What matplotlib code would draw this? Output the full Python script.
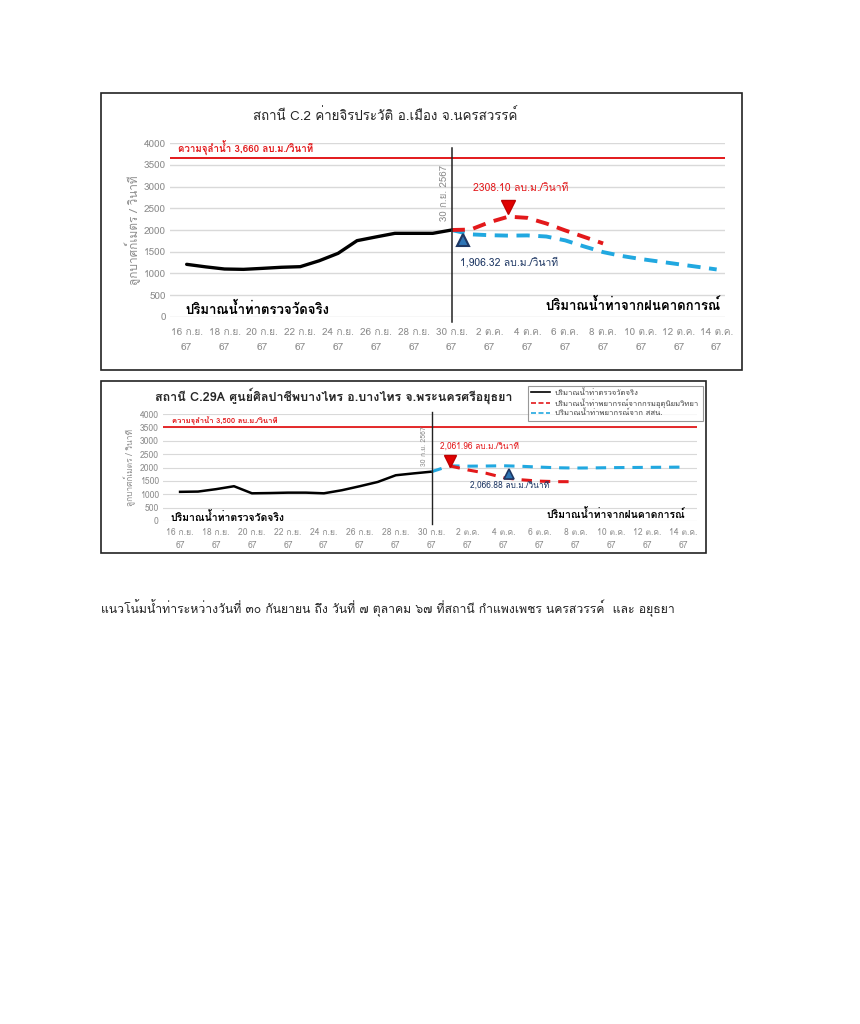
import matplotlib
matplotlib.use("Agg")
import matplotlib.pyplot as plt
from matplotlib import font_manager
from matplotlib.lines import Line2D
from matplotlib.patches import Rectangle

# หาฟอนต์ที่มีอักษรไทย
thai_font = None
try:
    from fontTools.ttLib import TTFont
    for f in font_manager.fontManager.ttflist:
        try:
            cmap = TTFont(f.fname, fontNumber=0, lazy=True).getBestCmap()
        except Exception:
            continue
        if cmap and 0x0E2A in cmap and 0x0E49 in cmap and 0x0E53 in cmap:
            thai_font = f.name
            break
except Exception:
    pass
fams = ([thai_font] if thai_font else []) + ["DejaVu Sans"]
plt.rcParams["font.family"] = fams

# ---- data ----
tick_pos = list(range(0, 29, 2))
tick_labels = ["16 ก.ย.\n67", "18 ก.ย.\n67", "20 ก.ย.\n67", "22 ก.ย.\n67", "24 ก.ย.\n67",
               "26 ก.ย.\n67", "28 ก.ย.\n67", "30 ก.ย.\n67", "2 ต.ค.\n67", "4 ต.ค.\n67",
               "6 ต.ค.\n67", "8 ต.ค.\n67", "10 ต.ค.\n67", "12 ต.ค.\n67", "14 ต.ค.\n67"]

# C.2 นครสวรรค์
c2_obs_x = list(range(0, 15))
c2_obs = [1208, 1150, 1100, 1092, 1115, 1140, 1154, 1290, 1462, 1754, 1840, 1923, 1923, 1923, 2000]
c2_tmd_x = list(range(14, 23))
c2_tmd = [2000, 2010, 2180, 2308, 2280, 2150, 1990, 1840, 1690]
c2_nhc_x = list(range(14, 29))
c2_nhc = [2000, 1900, 1880, 1870, 1875, 1850, 1760, 1620, 1490, 1400, 1330, 1270, 1210, 1150, 1090]
c2_cap = 3660

# C.29A บางไทร
c29_obs_x = list(range(0, 15))
c29_obs = [1090, 1100, 1190, 1300, 1035, 1045, 1060, 1060, 1035, 1150, 1300, 1460, 1710, 1780, 1845]
c29_tmd_x = list(range(15, 23))
c29_tmd = [2062, 1910, 1790, 1620, 1540, 1490, 1470, 1470]
c29_nhc_x = list(range(14, 29))
c29_nhc = [1845, 2062, 2050, 2055, 2065, 2045, 2015, 1990, 1980, 1985, 1995, 2000, 2005, 2010, 2015]
c29_cap = 3500

W, H = 860, 1024
fig = plt.figure(figsize=(8.6, 10.24), dpi=100)
fig.patch.set_facecolor("white")

def fx(x):
    return x / W

def fy(y):
    return 1 - y / H

RED = "#E3191B"
CYAN = "#21A8E0"
NAVY = "#1F3864"
GRAY = "#8C8C8C"

def setup(ax, fs, lw_grid, xpad):
    ax.set_ylim(0, 4000)
    ax.set_yticks(range(0, 4001, 500))
    ax.set_xticks(tick_pos)
    ax.set_xticklabels(tick_labels, linespacing=1.9)
    ax.tick_params(length=0, labelsize=fs, colors=GRAY)
    ax.tick_params(axis="x", pad=xpad)
    ax.tick_params(axis="y", pad=3)
    ax.grid(axis="y", color="#D9D9D9", lw=lw_grid)
    ax.set_axisbelow(True)
    for s in ax.spines.values():
        s.set_visible(False)

# ---------- chart 1 ----------
fig.add_artist(Rectangle((fx(101), fy(370)), fx(641), 277 / H, transform=fig.transFigure,
                         fill=False, ec="#222222", lw=1.2))
ax1 = fig.add_axes([fx(170), fy(316.7), fx(555), 173.4 / H])
setup(ax1, 7.2, 1.0, 8)
ax1.set_xlim(-0.88, 28.44)
ax1.axhline(c2_cap, color=RED, lw=1.4)
ax1.plot(c2_obs_x, c2_obs, color="black", lw=2.4, solid_capstyle="round")
ax1.plot(c2_nhc_x, c2_nhc, color=CYAN, lw=2.8, dashes=(3.4, 2.2))
ax1.plot(c2_tmd_x, c2_tmd, color=RED, lw=2.8, dashes=(3.4, 2.2))
ax1.plot([14, 14], [-120, 3900], color="#222222", lw=1.1, clip_on=False)
ax1.plot(17, 2520, marker="v", ms=10, color="#E00000", mec="#C00000")
ax1.plot(14.6, 1760, marker="^", ms=9, color="#2E75B6", mec=NAVY, mew=1.5)
ax1.text(-0.46, 3890, "ความจุลำน้ำ 3,660 ลบ.ม./วินาที", color=RED, fontsize=7, fontweight="bold", va="center")
ax1.text(13.6, 2850, "30 ก.ย. 2567", color=GRAY, fontsize=7, rotation=90, ha="center", va="center")
ax1.text(17.66, 2968, "2308.10 ลบ.ม./วินาที", color=RED, fontsize=7.5, ha="center", va="center")
ax1.text(14.44, 1262, "1,906.32 ลบ.ม./วินาที", color=NAVY, fontsize=7.5, ha="left", va="center")
ax1.text(-0.04, 175, "ปริมาณน้ำท่าตรวจวัดจริง", fontsize=9.5, fontweight="bold", va="center")
ax1.text(28.2, 270, "ปริมาณน้ำท่าจากฝนคาดการณ์", fontsize=9.5, fontweight="bold", ha="right", va="center")
ax1.set_ylabel("ลูกบาศก์เมตร / วินาที", color=GRAY, fontsize=8.5, labelpad=2)
fig.text(fx(385), fy(116), "สถานี C.2 ค่ายจิรประวัติ อ.เมือง จ.นครสวรรค์", fontsize=9.6,
         ha="center", va="center", color="#262626")

# ---------- chart 2 ----------
fig.add_artist(Rectangle((fx(101), fy(553)), fx(605), 172 / H, transform=fig.transFigure,
                         fill=False, ec="#222222", lw=1.2))
ax2 = fig.add_axes([fx(163), fy(521), fx(534), 107 / H])
setup(ax2, 6.2, 0.8, 5)
ax2.set_xlim(-0.95, 28.76)
ax2.set_xticklabels(tick_labels, linespacing=1.6)
ax2.axhline(c29_cap, color=RED, lw=1.3)
ax2.plot(c29_obs_x, c29_obs, color="black", lw=1.8)
ax2.plot(c29_nhc_x, c29_nhc, color=CYAN, lw=2.2, dashes=(3.4, 2.6))
ax2.plot(c29_tmd_x, c29_tmd, color=RED, lw=2.2, dashes=(3.4, 2.6))
ax2.plot([14, 14], [-100, 4075], color="#222222", lw=1.0, clip_on=False)
ax2.plot(15, 2230, marker="v", ms=8, color="#E00000", mec="#C00000")
ax2.plot(18.3, 1760, marker="^", ms=7, color="#2E75B6", mec=NAVY, mew=1.2)
ax2.text(-0.44, 3738, "ความจุลำน้ำ 3,500 ลบ.ม./วินาที", color=RED, fontsize=5.5, fontweight="bold", va="center")
ax2.text(13.6, 2800, "30 ก.ย. 2567", color=GRAY, fontsize=5, rotation=90, ha="center", va="center")
ax2.text(14.46, 2780, "2,061.96 ลบ.ม./วินาที", color=RED, fontsize=6, ha="left", va="center")
ax2.text(18.35, 1346, "2,066.88 ลบ.ม./วินาที", color=NAVY, fontsize=6, ha="center", va="center")
ax2.text(-0.56, 150, "ปริมาณน้ำท่าตรวจวัดจริง", fontsize=7.5, fontweight="bold", va="center")
ax2.text(28.1, 260, "ปริมาณน้ำท่าจากฝนคาดการณ์", fontsize=7.5, fontweight="bold", ha="right", va="center")
ax2.set_ylabel("ลูกบาศก์เมตร / วินาที", color=GRAY, fontsize=6, labelpad=3)
fig.text(fx(155), fy(396), "สถานี C.29A ศูนย์ศิลปาชีพบางไทร อ.บางไทร จ.พระนครศรีอยุธยา", fontsize=9,
         fontweight="bold", ha="left", va="center", color="#262626")

handles = [Line2D([], [], color="black", lw=1.2),
           Line2D([], [], color=RED, lw=1.2, dashes=(3, 1.5)),
           Line2D([], [], color=CYAN, lw=1.2, dashes=(3, 1.5))]
names = ["ปริมาณน้ำท่าตรวจวัดจริง", "ปริมาณน้ำท่าพยากรณ์จากกรมอุตุนิยมวิทยา", "ปริมาณน้ำท่าพยากรณ์จาก สสน."]
leg = fig.legend(handles, names, loc="upper left", bbox_to_anchor=(fx(524), fy(382)),
                 fontsize=5.5, frameon=True, fancybox=False, edgecolor="#7F7F7F",
                 handlelength=2.4, borderpad=0.45, labelspacing=0.2, handletextpad=0.7)
leg.get_frame().set_linewidth(0.8)
for t in leg.get_texts():
    t.set_color("#404040")

fig.text(fx(101), fy(608), "แนวโน้มน้ำท่าระหว่างวันที่ ๓๐ กันยายน ถึง วันที่ ๗ ตุลาคม ๖๗ ที่สถานี กำแพงเพชร นครสวรรค์  และ อยุธยา",
         fontsize=8.8, ha="left", va="center", color="#222222")

fig.savefig("out.png", dpi=100, facecolor="white")
